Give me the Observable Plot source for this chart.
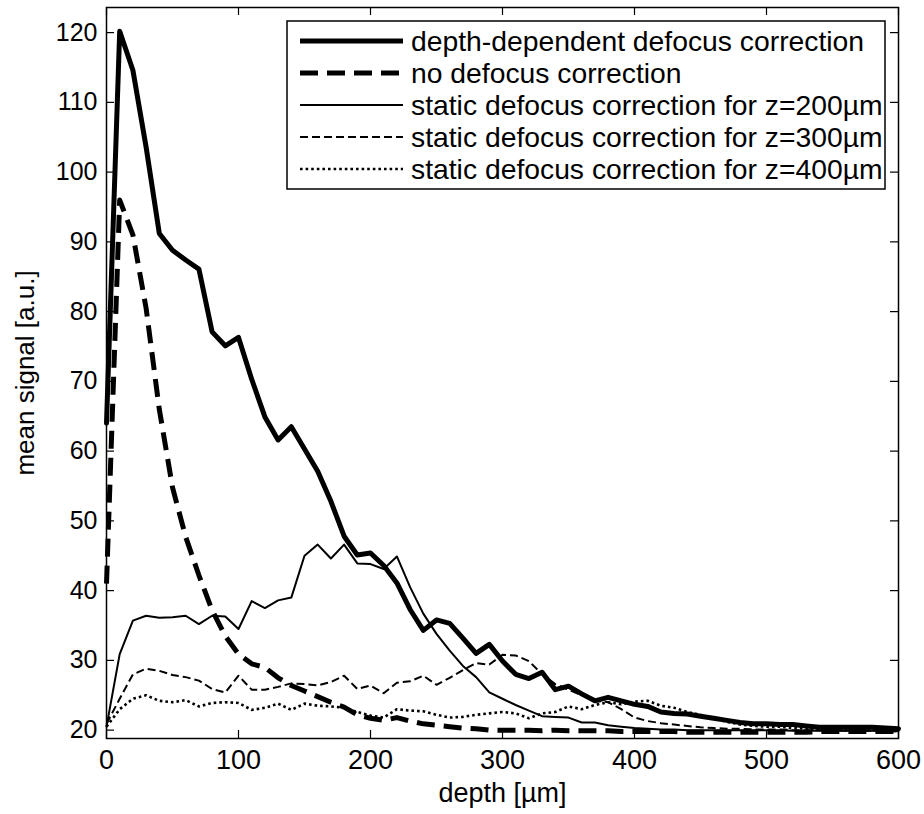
<!DOCTYPE html>
<html><head><meta charset="utf-8">
<script src="https://cdn.jsdelivr.net/npm/d3@7"></script>
<script src="https://cdn.jsdelivr.net/npm/@observablehq/plot@0.6"></script>
<style>body{margin:0;background:#fff} svg{display:block}</style>
</head><body><div id="chart"></div>
<script>
// depth samples [µm]
const depth = [0,10,20,30,40,50,60,70,80,90,100,110,120,130,140,150,160,170,180,190,200,
  210,220,230,240,250,260,270,280,290,300,310,320,330,340,350,360,370,380,390,400,
  410,420,430,440,450,460,470,480,490,500,510,520,530,540,550,560,570,580,590,600];

const depthDependent = [64,120.2,114.6,103.6,91.2,88.8,87.4,86.1,77.1,75.1,76.3,70.3,64.9,61.6,63.5,60.3,57.1,52.8,47.8,45.1,45.4,
  43.6,41.1,37.3,34.3,35.8,35.3,33.2,31.0,32.3,29.9,28.0,27.4,28.3,25.8,26.3,25.2,24.2,24.7,24.2,23.7,
  23.4,22.6,22.4,22.3,22.0,21.7,21.4,21.1,20.9,20.9,20.8,20.8,20.6,20.4,20.4,20.4,20.4,20.4,20.3,20.2];

const noCorrection = [41,96,91,80.5,66,54.8,47.7,42.2,37.2,33.5,30.9,29.5,29.0,27.5,26.4,25.6,24.8,24.0,23.3,22.2,21.7,
  21.4,21.8,21.3,20.9,20.7,20.5,20.3,20.2,20.0,20.0,20.0,20.0,19.9,20.0,19.9,19.9,19.9,19.9,19.8,19.8,
  19.8,19.8,19.8,19.7,19.7,19.7,19.7,19.7,19.7,19.7,19.7,19.7,19.7,19.8,19.8,19.8,19.8,19.8,19.8,19.8];

const static200 = [20.5,30.9,35.7,36.4,36.1,36.2,36.4,35.2,36.4,36.3,34.5,38.5,37.5,38.6,39.0,45.0,46.6,44.6,46.6,43.9,43.8,
  43.1,44.9,40.5,36.7,33.8,31.4,29.2,27.6,25.4,24.5,23.6,22.8,22.0,21.9,21.8,21.1,21.1,20.7,20.5,20.3,
  20.2,20.1,20.1,20.0,20.0,20.0,20.0,20.0,20.0,20.0,20.0,19.9,19.9,19.9,19.9,19.9,19.9,19.9,19.9,19.9];

const static300 = [20.9,24.5,28.0,28.8,28.5,27.9,27.6,27.1,25.9,25.4,27.8,25.8,25.8,26.2,26.7,26.6,26.4,26.9,27.8,25.9,26.4,
  25.3,26.8,27.0,27.8,26.5,27.5,28.6,29.6,29.4,30.8,30.7,29.9,28.0,26.6,25.8,25.0,24.2,24.0,23.0,21.8,
  21.3,21.0,20.8,20.6,20.4,20.3,20.2,20.2,20.1,20.1,20.1,20.0,20.0,20.0,20.0,19.9,19.9,19.9,19.8,19.8];

const static400 = [20.5,23.0,24.5,25.0,24.2,24.0,24.3,23.4,23.9,24.0,23.9,22.9,23.2,23.8,22.9,23.8,23.5,23.4,23.2,22.6,22.1,
  21.8,23.0,22.8,22.7,22.2,21.8,21.9,22.2,22.4,22.6,22.4,21.7,22.4,22.6,23.4,23.0,23.6,24.0,23.7,24.1,
  24.2,23.5,23.2,22.6,22.2,21.7,21.2,20.8,20.6,20.5,20.5,20.3,20.2,20.1,20.1,20.1,20.0,20.0,19.9,19.9];

const seriesNames = [
  "depth-dependent defocus correction",
  "no defocus correction",
  "static defocus correction for z=200\u00b5m",
  "static defocus correction for z=300\u00b5m",
  "static defocus correction for z=400\u00b5m"
];
const xTicks = [0,100,200,300,400,500,600];
const yTicks = [20,30,40,50,60,70,80,90,100,110,120];
const xLabel = "depth [\u00b5m]";
const yLabel = "mean signal [a.u.]";

const FONT = "'Liberation Sans', Arial, Helvetica, sans-serif";
const W = 924, H = 814, mL = 106, mR = 26, mT = 7, mB = 76;
const frameW = W - mL - mR, frameH = H - mT - mB;
const tickLen = 8;

const styles = [
  {w: 5, dash: undefined, cap: "round"},
  {w: 5, dash: "18,9", cap: "butt"},
  {w: 2, dash: undefined, cap: "round"},
  {w: 2, dash: "8,4", cap: "butt"},
  {w: 2.6, dash: "2.6,3", cap: "butt"}
];
const seriesData = [depthDependent, noCorrection, static200, static300, static400];

const lineMarks = seriesData.map((vals, i) => Plot.line(
  depth.map((d, j) => ({depth: d, value: vals[j]})),
  {x: "depth", y: "value", stroke: "black", strokeWidth: styles[i].w,
   strokeDasharray: styles[i].dash, strokeLinecap: styles[i].cap, strokeLinejoin: "round"}
));

const chart = Plot.plot({
  width: W, height: H,
  marginLeft: mL, marginRight: mR, marginTop: mT, marginBottom: mB,
  style: {fontFamily: FONT, background: "white", color: "black"},
  x: {domain: [0, 600], axis: null},
  y: {domain: [18.8, 123.6], axis: null},
  marks: [
    ...lineMarks,
    Plot.tickX(xTicks, {x: d => d, insetTop: frameH - tickLen, stroke: "black", strokeWidth: 1.2}),
    Plot.tickX(xTicks, {x: d => d, insetBottom: frameH - tickLen, stroke: "black", strokeWidth: 1.2}),
    Plot.tickY(yTicks, {y: d => d, insetRight: frameW - tickLen, stroke: "black", strokeWidth: 1.2}),
    Plot.tickY(yTicks, {y: d => d, insetLeft: frameW - tickLen, stroke: "black", strokeWidth: 1.2}),
    Plot.frame({stroke: "black", strokeWidth: 1.5}),
    Plot.text(xTicks, {x: d => d, text: d => String(d), frameAnchor: "bottom", lineAnchor: "middle", dy: 22, fontSize: 27}),
    Plot.text(yTicks, {y: d => d, text: d => String(d), frameAnchor: "left", textAnchor: "end", dx: -9, fontSize: 25}),
    Plot.text([xLabel], {text: d => d, frameAnchor: "bottom", lineAnchor: "middle", dy: 55, fontSize: 27}),
    Plot.text([yLabel], {text: d => d, frameAnchor: "left", textAnchor: "middle", lineAnchor: "middle", dx: -81, rotate: -90, fontSize: 26})
  ]
});

document.getElementById("chart").appendChild(chart);

// legend (MATLAB-style box in the upper right)
const svg = d3.select(chart);
const lg = svg.append("g").attr("font-family", FONT).attr("text-anchor", "start");
const box = {x1: 287, x2: 885, y1: 21, y2: 189};
lg.append("rect").attr("x", box.x1).attr("y", box.y1)
  .attr("width", box.x2 - box.x1).attr("height", box.y2 - box.y1)
  .attr("fill", "white").attr("stroke", "black").attr("stroke-width", 1.5);
const rowY0 = 41, rowStep = 32;
seriesNames.forEach((name, i) => {
  const y = rowY0 + i * rowStep;
  lg.append("line").attr("x1", 300).attr("x2", 403).attr("y1", y).attr("y2", y)
    .attr("stroke", "black").attr("stroke-width", styles[i].w)
    .attr("stroke-dasharray", styles[i].dash || null)
    .attr("stroke-linecap", "butt");
  lg.append("text").attr("x", 411).attr("y", y).attr("dy", "0.35em")
    .attr("text-anchor", "start")
    .attr("font-size", 28.3).attr("fill", "black").text(name);
});
</script>
</body></html>
